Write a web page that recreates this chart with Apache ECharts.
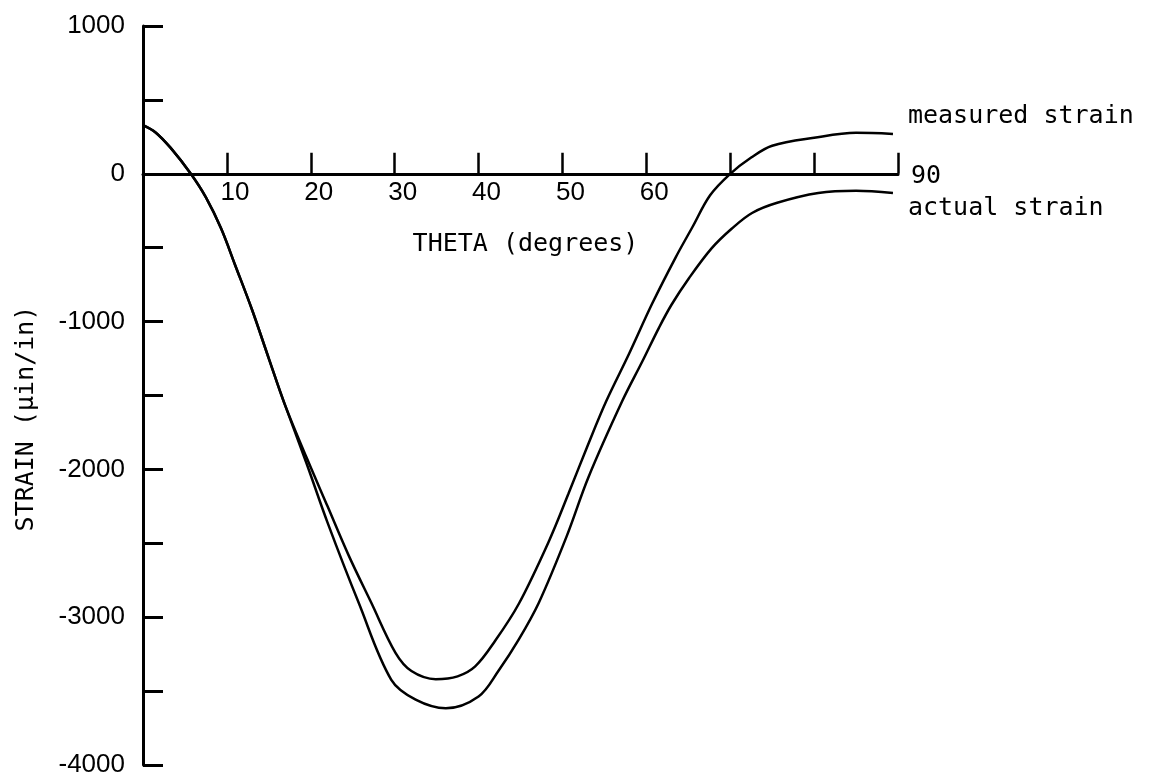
<!DOCTYPE html>
<html>
<head>
<meta charset="utf-8">
<script src="https://cdn.jsdelivr.net/npm/echarts@6/dist/echarts.min.js"></script>
<style>
html,body{margin:0;padding:0;background:#fff;}
#chart{width:1159px;height:779px;}
</style>
</head>
<body>
<div id="chart"></div>
<script>
// THETA (degrees) values for each curve
var measuredTheta = [0, 1.5, 3.3, 5.7, 7.5, 9.3, 11, 13, 15, 16.9, 19.5, 22, 24.5, 27.2, 30.1, 32, 34.9, 37.5, 39.6, 42, 44.8, 48.4, 50.7, 53, 55.2, 57.9, 60.7, 63.5, 65.5, 67.6, 70, 72.5, 75, 80, 85, 89.4];
var measuredStrain = [330, 280, 175, 0, -160, -369, -620, -920, -1250, -1560, -1920, -2250, -2580, -2901, -3241, -3364, -3419, -3400, -3333, -3158, -2909, -2484, -2167, -1840, -1541, -1223, -878, -565, -360, -145, 0, 110, 190, 244, 277, 270];

var actualTheta = [0, 1.5, 3.3, 5.7, 7.5, 9.3, 11, 13, 15, 16.9, 19.5, 22, 25.7, 29.6, 32.5, 36.1, 40, 42.4, 44.8, 47.2, 50.5, 53.1, 57.1, 59.5, 61.5, 63, 65.1, 67.8, 70.2, 72.6, 75.6, 80.5, 85, 89.4];
var actualStrain = [330, 280, 175, 0, -160, -369, -620, -920, -1250, -1560, -1960, -2360, -2901, -3424, -3558, -3616, -3536, -3360, -3150, -2900, -2453, -2053, -1541, -1272, -1042, -886, -705, -503, -370, -265, -196, -130, -115, -130];

var xTickLabels = [10, 20, 30, 40, 50, 60];
var xEndLabel = 90;
var yTickLabels = [1000, 0, -1000, -2000, -3000, -4000];
var yMin = -4000, yMax = 1000;

function pairs(xs, ys) { return xs.map(function (x, i) { return [x, ys[i]]; }); }

var mono = 'DejaVu Sans Mono';
var sans = 'Liberation Sans';

var chart = echarts.init(document.getElementById('chart'), null, {renderer: 'canvas'});
chart.setOption({
  animation: false,
  backgroundColor: '#fff',
  grid: {left: 143, right: 261, top: 26, bottom: 14, containLabel: false, outerBoundsMode: 'none'},
  xAxis: {
    type: 'value', min: 0, max: 90, interval: 10,
    name: 'THETA (degrees)', nameLocation: 'middle', nameGap: 58,
    nameTextStyle: {fontFamily: mono, fontSize: 25, color: '#000', padding: [0, 0, 0, 10]},
    splitLine: {show: false},
    axisLine: {onZero: false, lineStyle: {color: '#000', width: 3}},
    axisTick: {inside: true, length: 21, lineStyle: {color: '#000', width: 2.5}},
    axisLabel: {
      margin: 3, verticalAlign: 'middle', color: '#000',
      formatter: function (v) {
        if (xTickLabels.indexOf(v) >= 0) return '{t|' + v + '}';
        if (v === xEndLabel) return '{n|' + v + '}';
        return '';
      },
      rich: {
        t: {fontFamily: sans, fontSize: 26, color: '#000', padding: [32, 0, 0, 16]},
        n: {fontFamily: mono, fontSize: 25, color: '#000', padding: [0, 0, 0, 56]}
      }
    }
  },
  yAxis: {
    type: 'value', min: yMin, max: yMax, interval: 500,
    name: 'STRAIN (\u03bcin/in)', nameLocation: 'middle', nameGap: 104,
    nameTextStyle: {fontFamily: mono, fontSize: 25, color: '#000', padding: [0, 46, 0, 0]},
    splitLine: {show: false},
    axisLine: {show: true, onZero: false, lineStyle: {color: '#000', width: 3}},
    axisTick: {show: true, inside: true, length: 20, lineStyle: {color: '#000', width: 3}},
    axisLabel: {
      margin: 18, color: '#000', fontFamily: sans, fontSize: 26,
      formatter: function (v) { return yTickLabels.indexOf(v) >= 0 ? String(v) : ''; }
    }
  },
  series: [
    {
      name: 'measured strain', type: 'line', smooth: 0.35, showSymbol: false,
      data: pairs(measuredTheta, measuredStrain),
      lineStyle: {color: '#000', width: 2.5},
      endLabel: {show: true, formatter: 'measured strain', distance: 15, offset: [0, -17],
        fontFamily: mono, fontSize: 25, color: '#000'}
    },
    {
      name: 'actual strain', type: 'line', smooth: 0.35, showSymbol: false,
      data: pairs(actualTheta, actualStrain),
      lineStyle: {color: '#000', width: 2.5},
      endLabel: {show: true, formatter: 'actual strain', distance: 15, offset: [0, 15],
        fontFamily: mono, fontSize: 25, color: '#000'}
    }
  ]
});
// Move the x axis (line, ticks, labels, name) up to the zero line using the library's own y scale.
var pxZero = chart.convertToPixel({yAxisIndex: 0}, 0);
var pxMin = chart.convertToPixel({yAxisIndex: 0}, yMin);
chart.setOption({xAxis: {offset: pxZero - pxMin}});
</script>
</body>
</html>
